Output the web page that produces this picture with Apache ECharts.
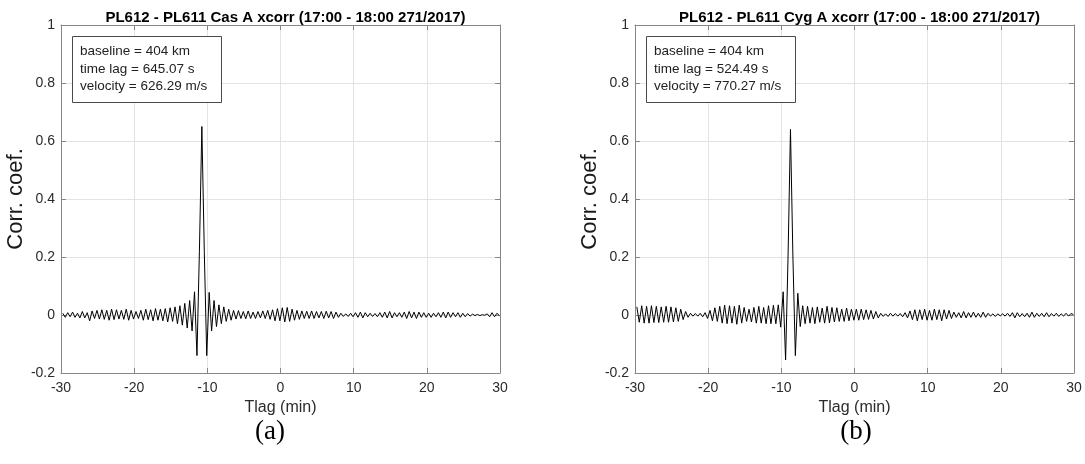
<!DOCTYPE html>
<html>
<head>
<meta charset="utf-8">
<script src="https://cdn.jsdelivr.net/npm/echarts@6/dist/echarts.min.js"></script>
<style>
html,body{margin:0;padding:0;background:#fff;}
#c{width:1085px;height:464px;}
</style>
</head>
<body>
<div id="c"></div>
<script>
// ---- data ----
const lagStartSec = -1785;  // first sample lag, seconds
const lagStepSec = 20;      // seconds between samples
const xTickValues = [-30, -20, -10, 0, 10, 20, 30];
const yTickValues = [-0.2, 0, 0.2, 0.4, 0.6, 0.8, 1];

const titles = [
  "PL612 - PL611 Cas A xcorr (17:00 - 18:00 271/2017)",
  "PL612 - PL611 Cyg A xcorr (17:00 - 18:00 271/2017)"
];
const captions = ["(a)", "(b)"];
const infoA = ["baseline = 404 km", "time lag = 645.07 s", "velocity = 626.29 m/s"];
const infoB = ["baseline = 404 km", "time lag = 524.49 s", "velocity = 770.27 m/s"];

// Cas A cross-correlation
const corrA = [
  0.006,-0.008,0.008,-0.006,0.010,-0.008,0.006,-0.010,0.012,-0.010,
  0.008,-0.020,0.014,-0.012,0.016,-0.014,0.018,-0.015,0.016,-0.018,
  0.020,-0.016,0.018,-0.014,0.016,-0.015,0.020,-0.018,0.016,-0.014,
  0.012,-0.012,0.016,-0.018,0.020,-0.016,0.018,-0.020,0.022,-0.018,
  0.020,-0.020,0.022,-0.024,0.025,-0.022,0.028,-0.030,0.032,-0.035,
  0.040,-0.045,0.050,-0.055,0.080,-0.140,0.220,0.650,0.220,-0.140,
  0.078,-0.055,0.050,-0.040,0.035,-0.030,0.028,-0.022,0.020,-0.018,
  0.016,-0.014,0.015,-0.012,0.012,-0.013,0.014,-0.012,0.010,-0.012,
  0.012,-0.010,0.014,-0.012,0.016,-0.015,0.018,-0.020,0.022,-0.020,
  0.025,-0.024,0.026,-0.022,0.020,-0.018,0.016,-0.015,0.014,-0.012,
  0.013,-0.012,0.014,-0.012,0.012,-0.010,0.012,-0.012,0.013,-0.010,
  0.012,-0.012,0.010,-0.008,0.006,-0.005,0.004,-0.005,0.006,-0.006,
  0.008,-0.008,0.010,-0.010,0.008,-0.006,0.006,-0.005,0.005,-0.006,
  0.008,-0.008,0.010,-0.010,0.012,-0.010,0.008,-0.006,0.008,-0.008,
  0.010,-0.012,0.012,-0.010,0.010,-0.012,0.010,-0.008,0.008,-0.008,
  0.006,-0.008,0.006,-0.006,0.008,-0.008,0.010,-0.010,0.010,-0.008,
  0.008,-0.006,0.008,-0.008,0.006,-0.006,0.005,-0.004,0.003,-0.002,
  0.002,-0.002,0.001,-0.001,0.004,-0.006,0.008,-0.006,0.006,-0.002
];

// Cyg A cross-correlation
const corrB = [
  0.028,-0.025,0.032,-0.028,0.030,-0.028,0.032,-0.026,0.030,-0.026,
  0.028,-0.025,0.030,-0.025,0.028,-0.024,0.025,-0.022,0.020,-0.016,
  0.012,-0.008,0.006,-0.004,0.005,-0.004,0.006,-0.006,0.008,-0.012,
  0.016,-0.020,0.025,-0.022,0.030,-0.028,0.034,-0.030,0.032,-0.028,
  0.030,-0.032,0.034,-0.028,0.026,-0.022,0.020,-0.024,0.026,-0.028,
  0.030,-0.028,0.026,-0.030,0.032,-0.030,0.034,-0.030,0.035,-0.042,
  0.080,-0.155,0.200,0.640,0.200,-0.140,0.075,-0.040,0.032,-0.030,
  0.030,-0.028,0.026,-0.030,0.028,-0.025,0.024,-0.028,0.030,-0.027,
  0.026,-0.024,0.025,-0.022,0.020,-0.022,0.024,-0.020,0.020,-0.018,
  0.020,-0.018,0.020,-0.016,0.018,-0.015,0.016,-0.014,0.012,-0.010,
  0.006,-0.005,0.004,-0.005,0.006,-0.004,0.005,-0.004,0.005,-0.006,
  0.008,-0.010,0.014,-0.016,0.018,-0.020,0.018,-0.016,0.020,-0.018,
  0.016,-0.018,0.020,-0.016,0.018,-0.020,0.018,-0.014,0.016,-0.012,
  0.010,-0.008,0.008,-0.010,0.012,-0.010,0.008,-0.008,0.010,-0.008,
  0.006,-0.008,0.010,-0.008,0.006,-0.004,0.004,-0.005,0.004,-0.003,
  0.004,-0.004,0.006,-0.005,0.008,-0.010,0.008,-0.006,0.005,-0.006,
  0.006,-0.008,0.010,-0.008,0.006,-0.005,0.006,-0.006,0.008,-0.006,
  0.005,-0.004,0.006,-0.005,0.004,-0.004,0.006,-0.004,0.005,0.002
];

// ---- chart ----
const chart = echarts.init(document.getElementById('c'), null, {renderer: 'canvas'});
const FONT = '"Liberation Sans", Arial, sans-serif';
const AXIS_COLOR = '#868686';
const LABEL_COLOR = '#2b2b2b';
const grids = [
  {left: 61, top: 25, width: 439, height: 348},
  {left: 635, top: 25, width: 439, height: 348}
];
const captionCenters = [270, 856];

function toPairs(arr) { return arr.map((v, i) => [(lagStartSec + i * lagStepSec) / 60, v]); }

const xAxes = [], yAxes = [], series = [], titleList = [], graphics = [];
[corrA, corrB].forEach((arr, g) => {
  const base = {
    gridIndex: g, type: 'value', min: xTickValues[0], max: xTickValues[xTickValues.length - 1], interval: 10,
    axisLine: {show: true, onZero: false, lineStyle: {color: AXIS_COLOR, width: 1}},
    axisTick: {show: true, inside: true, length: 5, lineStyle: {color: AXIS_COLOR}},
  };
  xAxes.push(Object.assign({}, base, {
    position: 'bottom',
    axisLabel: {show: true, color: LABEL_COLOR, fontFamily: FONT, fontSize: 14, margin: 8},
    splitLine: {show: true, lineStyle: {color: '#e3e3e3', width: 1}},
    name: 'Tlag (min)', nameLocation: 'middle', nameGap: 27,
    nameTextStyle: {color: LABEL_COLOR, fontFamily: FONT, fontSize: 16}
  }));
  xAxes.push(Object.assign({}, base, {
    position: 'top', axisLabel: {show: false}, splitLine: {show: false}
  }));
  const ybase = {
    gridIndex: g, type: 'value', min: yTickValues[0], max: yTickValues[yTickValues.length - 1], interval: 0.2,
    axisLine: {show: true, onZero: false, lineStyle: {color: AXIS_COLOR, width: 1}},
    axisTick: {show: true, inside: true, length: 5, lineStyle: {color: AXIS_COLOR}},
  };
  yAxes.push(Object.assign({}, ybase, {
    position: 'left',
    axisLabel: {show: true, color: LABEL_COLOR, fontFamily: FONT, fontSize: 14, margin: 6,
      formatter: v => String(Math.round(v * 10) / 10)},
    splitLine: {show: true, lineStyle: {color: '#e3e3e3', width: 1}},
    name: 'Corr. coef.', nameLocation: 'middle', nameGap: 30,
    nameTextStyle: {color: '#1a1a1a', fontFamily: FONT, fontSize: 22}
  }));
  yAxes.push(Object.assign({}, ybase, {
    position: 'right', axisLabel: {show: false}, splitLine: {show: false}
  }));
  series.push({
    type: 'line', xAxisIndex: g * 2, yAxisIndex: g * 2,
    data: toPairs(arr), showSymbol: false, symbol: 'none',
    lineStyle: {color: '#000', width: 1}, animation: false
  });
  const cx = grids[g].left + grids[g].width / 2;
  titleList.push({
    text: titles[g], left: cx, top: 5, textAlign: 'center',
    textStyle: {fontFamily: FONT, fontSize: 15, fontWeight: 'bold', color: '#000'}
  });
  const info = g === 0 ? infoA : infoB;
  const bx = grids[g].left + 11, by = 36;
  graphics.push({
    type: 'rect', left: bx, top: by, z: 10,
    shape: {width: 149, height: 66},
    style: {fill: '#fff', stroke: '#4a4a4a', lineWidth: 1}
  });
  info.forEach((t, k) => {
    graphics.push({
      type: 'text', left: bx + 8, top: by + 8.5 + k * 17.3, z: 11,
      style: {text: t, fill: '#222', font: '13.5px ' + FONT}
    });
  });
  graphics.push({
    type: 'text', x: captionCenters[g], y: 432, z: 11,
    style: {text: captions[g], fill: '#000', align: 'center', verticalAlign: 'middle',
      font: '27px "Liberation Serif", "Times New Roman", serif'}
  });
});

chart.setOption({
  animation: false,
  backgroundColor: '#fff',
  title: titleList,
  grid: grids,
  xAxis: xAxes,
  yAxis: yAxes,
  series: series,
  graphic: graphics
});
</script>
</body>
</html>
